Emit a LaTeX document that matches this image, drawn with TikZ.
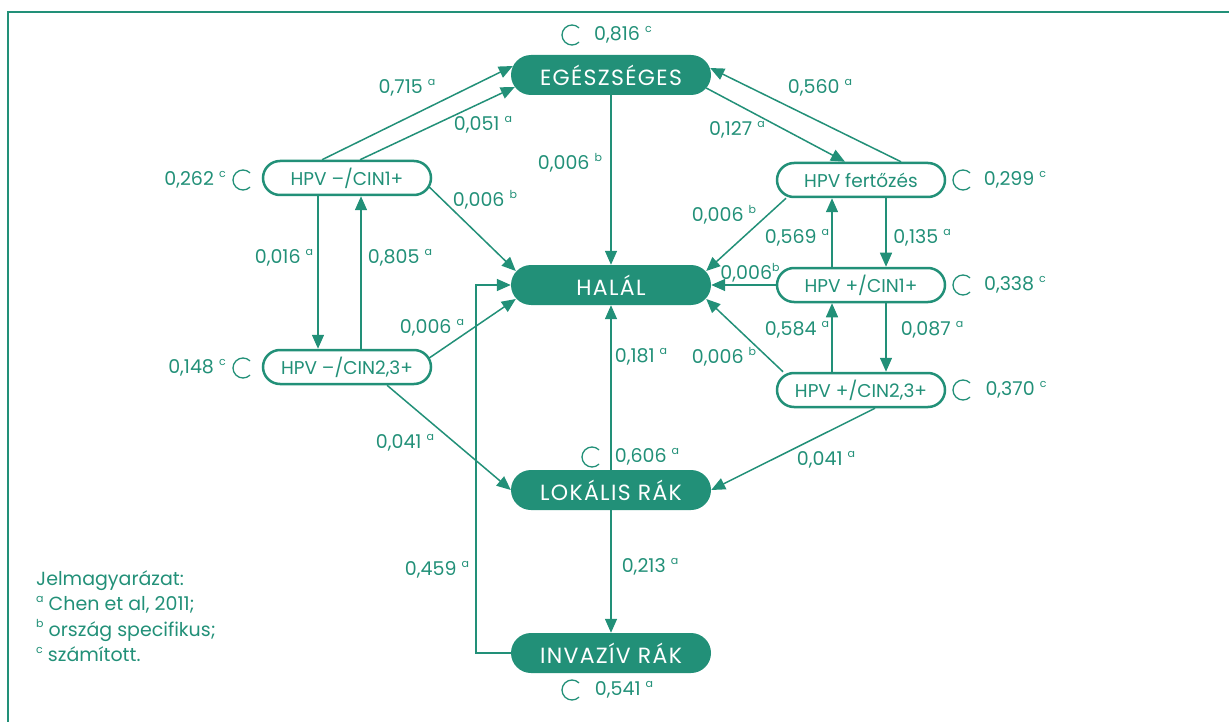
\documentclass[tikz,border=0pt]{standalone}
\usepackage{fontspec}
\setmainfont{Poppins}
\usetikzlibrary{arrows.meta}
\definecolor{zold}{RGB}{34,144,120}
\newcommand{\kicsi}[1]{\raisebox{0.45em}{\fontsize{11}{11}\selectfont #1}}
\newcommand{\hurok}[1]{\draw[hurokvonal] (#1) ++(45:10) arc (45:315:10);}

\begin{document}
\begin{tikzpicture}
            [x=1pt,y=-1pt,
            tele/.style={fill=zold,text=white,rounded corners=20pt,minimum width=200pt,minimum height=40pt,font=\fontsize{22}{24}\selectfont\addfontfeatures{LetterSpace=6}},
            ures/.style={draw=zold,line width=2.5pt,rounded corners=17pt,minimum width=168pt,minimum height=34pt,text=zold,font=\fontsize{18.5}{20}\selectfont},
            nyil/.style={draw=zold,line width=1.5pt,-{Triangle[length=14pt,width=12pt]}},
            szam/.style={text=zold,inner sep=0pt,font=\fontsize{19}{20}\selectfont},
            hurokvonal/.style={draw=zold,line width=1.3pt}]
            \useasboundingbox (0,0) rectangle (1229,722);
            \draw[zold,line width=1.5pt] (8,722) |- (1229,12);

            \node[tele] (egesz) at (611,75) {EGÉSZSÉGES};
            \node[tele] (halal) at (611,285) {HALÁL};
            \node[tele] (lokal) at (611,490) {LOKÁLIS RÁK};
            \node[tele] (invaz) at (611,653) {INVAZÍV RÁK};
            \node[ures] (neg1) at (347,178) {HPV –/CIN1+};
            \node[ures] (neg2) at (347,367) {HPV –/CIN2,3+};
            \node[ures] (fert) at (861,180) {HPV fertőzés};
            \node[ures] (pos1) at (861,285) {HPV +/CIN1+};
            \node[ures] (pos2) at (861,390) {HPV +/CIN2,3+};

            \draw[nyil] ([shift={(-25,0)}]neg1.north) -- ([shift={(2,-9)}]egesz.west);
            \draw[nyil] ([shift={(13,0)}]neg1.north) -- ([shift={(4,12)}]egesz.west);
            \draw[nyil] (egesz) -- (halal);
            \draw[nyil] ([shift={(-5,13)}]egesz.east) -- ([shift={(-16,0)}]fert.north);
            \draw[nyil] ([shift={(40,0)}]fert.north) -- ([shift={(-1,-7)}]egesz.east);
            \draw[nyil] ([shift={(-3,9)}]neg1.east) -- ([shift={(5,-14)}]halal.west);
            \draw[nyil] ([shift={(-29,0)}]neg1.south) -- ([shift={(-29,0)}]neg2.north);
            \draw[nyil] ([shift={(14,0)}]neg2.north) -- ([shift={(14,0)}]neg1.south);
            \draw[nyil] ([shift={(-3,-9)}]neg2.east) -- ([shift={(5,14)}]halal.west);
            \draw[nyil] ([shift={(40,0)}]neg2.south) -- (lokal.west);
            \draw[nyil] (invaz.west) -- ++(-35,0) |- (halal.west);
            \draw[nyil] (lokal) -- (halal);
            \draw[nyil] (lokal) -- (invaz);
            \draw[nyil] ([shift={(-75,0)}]fert.south) -- ([shift={(-5,-14)}]halal.east);
            \draw[nyil] ([shift={(25,0)}]fert.south) -- ([shift={(25,0)}]pos1.north);
            \draw[nyil] ([shift={(-29,0)}]pos1.north) -- ([shift={(-29,0)}]fert.south);
            \draw[nyil] (pos1) -- (halal);
            \draw[nyil] ([shift={(25,0)}]pos1.south) -- ([shift={(25,0)}]pos2.north);
            \draw[nyil] ([shift={(-29,0)}]pos2.north) -- ([shift={(-29,0)}]pos1.south);
            \draw[nyil] ([shift={(-78,0)}]pos2.north) -- ([shift={(-5,14)}]halal.east);
            \draw[nyil] ([shift={(14,0)}]pos2.south) -- (lokal.east);

            \node[szam] (e715) at (407,88) {0,715 \kicsi{a}};
            \node[szam] (e051) at (483,125) {0,051 \kicsi{a}};
            \node[szam] (e006a) at (570,163) {0,006 \kicsi{b}};
            \node[szam] (e127) at (737,130) {0,127 \kicsi{a}};
            \node[szam] (e560) at (820,88) {0,560 \kicsi{a}};
            \node[szam] (e006b) at (485,200) {0,006 \kicsi{b}};
            \node[szam] (e016) at (284,258) {0,016 \kicsi{a}};
            \node[szam] (e805) at (400,258) {0,805 \kicsi{a}};
            \node[szam] (e006c) at (432,328) {0,006 \kicsi{a}};
            \node[szam] (e041a) at (405,443) {0,041 \kicsi{a}};
            \node[szam] (e459) at (437,570) {0,459 \kicsi{a}};
            \node[szam] (e181) at (641,357) {0,181 \kicsi{a}};
            \node[szam] (e213) at (650,567) {0,213 \kicsi{a}};
            \node[szam] (e006d) at (724,215) {0,006 \kicsi{b}};
            \node[szam] (e569) at (797,238) {0,569 \kicsi{a}};
            \node[szam] (e135) at (922,238) {0,135 \kicsi{a}};
            \node[szam] (e006e) at (750,273) {0,006\kicsi{b}};
            \node[szam] (e584) at (797,330) {0,584 \kicsi{a}};
            \node[szam] (e087) at (932,330) {0,087 \kicsi{a}};
            \node[szam] (e006f) at (724,357) {0,006 \kicsi{b}};
            \node[szam] (e041b) at (826,460) {0,041 \kicsi{a}};

            \node[szam] (h816) at (623,35) {0,816 \kicsi{c}};
            \node[szam] (h262) at (195,180) {0,262 \kicsi{c}};
            \node[szam] (h148) at (197,368) {0,148 \kicsi{c}};
            \node[szam] (h299) at (1015,180) {0,299 \kicsi{c}};
            \node[szam] (h338) at (1015,285) {0,338 \kicsi{c}};
            \node[szam] (h370) at (1016,390) {0,370 \kicsi{c}};
            \node[szam] (h606) at (647,457) {0,606 \kicsi{a}};
            \node[szam] (h541) at (624,690) {0,541 \kicsi{a}};
            \hurok{572,35}
            \hurok{243,180}
            \hurok{243,368}
            \hurok{963,180}
            \hurok{963,285}
            \hurok{963,390}
            \hurok{592,457}
            \hurok{572,690}

            \node[szam,anchor=north west,align=left,font=\fontsize{19}{25.5}\selectfont] (jel) at (36,570)
                {Jelmagyarázat:\\\kicsi{a} Chen et al, 2011;\\\kicsi{b} ország specifikus;\\\kicsi{c} számított.};

        \end{tikzpicture}
\end{document}
